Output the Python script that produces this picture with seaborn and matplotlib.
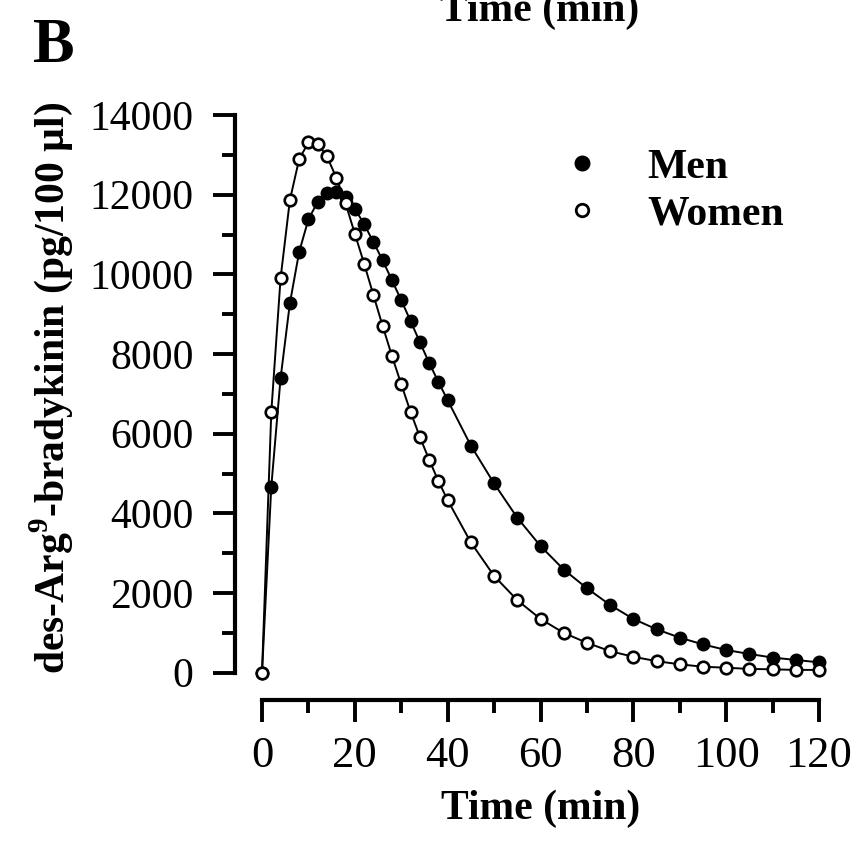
import matplotlib
matplotlib.use('Agg')
import pandas as pd
import matplotlib.pyplot as plt
import seaborn as sns
from matplotlib.lines import Line2D
from matplotlib.ticker import MultipleLocator

# sampling times (min): every 2 min up to 40, then every 5 min
time_min = [0, 2, 4, 6, 8, 10, 12, 14, 16, 18, 20, 22, 24, 26, 28, 30, 32, 34, 36, 38, 40,
            45, 50, 55, 60, 65, 70, 75, 80, 85, 90, 95, 100, 105, 110, 115, 120]

# des-Arg9-bradykinin (pg/100 ul)
men = [0, 4670, 7390, 9270, 10560, 11380, 11820, 12030, 12070, 11930, 11650, 11260, 10810,
       10350, 9850, 9350, 8830, 8300, 7780, 7300, 6840,
       5700, 4750, 3890, 3180, 2590, 2120, 1700, 1350, 1090, 880, 710, 570, 470, 380, 320, 260]
women = [0, 6540, 9900, 11860, 12890, 13310, 13280, 12960, 12430, 11780, 11020, 10270, 9480,
         8700, 7950, 7240, 6550, 5920, 5350, 4810, 4330,
         3270, 2430, 1820, 1350, 1000, 750, 540, 400, 290, 210, 150, 125, 95, 85, 70, 70]

df = pd.DataFrame({'time': time_min, 'Men': men, 'Women': women})
df = df.melt(id_vars='time', var_name='group', value_name='conc')

sns.set_style('ticks', {'axes.edgecolor': 'black', 'xtick.color': 'black',
                        'ytick.color': 'black', 'text.color': 'black',
                        'axes.labelcolor': 'black'})
plt.rcParams['font.family'] = ['Liberation Serif', 'DejaVu Serif']
plt.rcParams['mathtext.fontset'] = 'custom'
plt.rcParams['mathtext.rm'] = 'Liberation Serif'
plt.rcParams['mathtext.bf'] = 'Liberation Serif:bold'

W, H = 857, 861
fig = plt.figure(figsize=(W / 100, H / 100), dpi=100)
ax = fig.add_axes([262 / W, 188.3 / H, 557 / W, 557.7 / H])

sns.lineplot(data=df[df['group'] == 'Men'], x='time', y='conc', ax=ax, errorbar=None,
             color='black', lw=1.4, marker='o', markersize=9,
             markerfacecolor='black', markeredgecolor='black', markeredgewidth=1,
             clip_on=False, zorder=3)
sns.lineplot(data=df[df['group'] == 'Women'], x='time', y='conc', ax=ax, errorbar=None,
             color='black', lw=1.4, marker='o', markersize=8.3,
             markerfacecolor='white', markeredgecolor='black', markeredgewidth=1.9,
             clip_on=False, zorder=4)

ax.set_xlim(0, 120)
ax.set_ylim(0, 14000)
ax.set_xticks(range(0, 121, 20))
ax.xaxis.set_minor_locator(MultipleLocator(10))
ax.set_yticks(range(0, 14001, 2000))
ax.yaxis.set_minor_locator(MultipleLocator(1000))

sns.despine(ax=ax, offset=19.4)
for s in ['left', 'bottom']:
    ax.spines[s].set_linewidth(3)
ax.tick_params(which='major', direction='out', length=16, width=2.8)
ax.tick_params(which='minor', direction='out', length=9.5, width=2.8)
ax.tick_params(axis='y', which='major', pad=14, labelsize=30)
ax.tick_params(axis='x', which='major', pad=10, labelsize=32)

ax.set_xlabel('Time (min)', fontsize=30, fontweight='bold', va='baseline')
ax.xaxis.set_label_coords(0.5, -0.262)
ax.set_ylabel(r'des-Arg$^{\mathbf{9}}$-bradykinin (pg/100 µl)', fontsize=30,
              fontweight='bold', va='baseline')
ax.yaxis.set_label_coords(-0.356, 0.51)

legend_elements = [
    Line2D([0], [0], marker='o', color='black', linestyle='none', markersize=10.5,
           markerfacecolor='black', label='Men'),
    Line2D([0], [0], marker='o', color='black', linestyle='none', markersize=9,
           markerfacecolor='white', markeredgewidth=2, label='Women'),
]
ax.legend(handles=legend_elements, loc='upper left',
          bbox_to_anchor=(540 / W, 1 - 128 / H), bbox_transform=fig.transFigure,
          frameon=False, borderpad=0, handlelength=1.0, handletextpad=1.08,
          labelspacing=0.2, prop={'size': 30, 'weight': 'bold'})

# panel letter and the cut-off axis title of the panel above
fig.text(33 / W, 1 - 62 / H, 'B', fontsize=45, fontweight='bold', ha='left', va='baseline')
fig.text(540 / W, 1 - 21 / H, 'Time (min)', fontsize=30, fontweight='bold',
         ha='center', va='baseline')

fig.savefig('out.png', dpi=100)
plt.close(fig)
